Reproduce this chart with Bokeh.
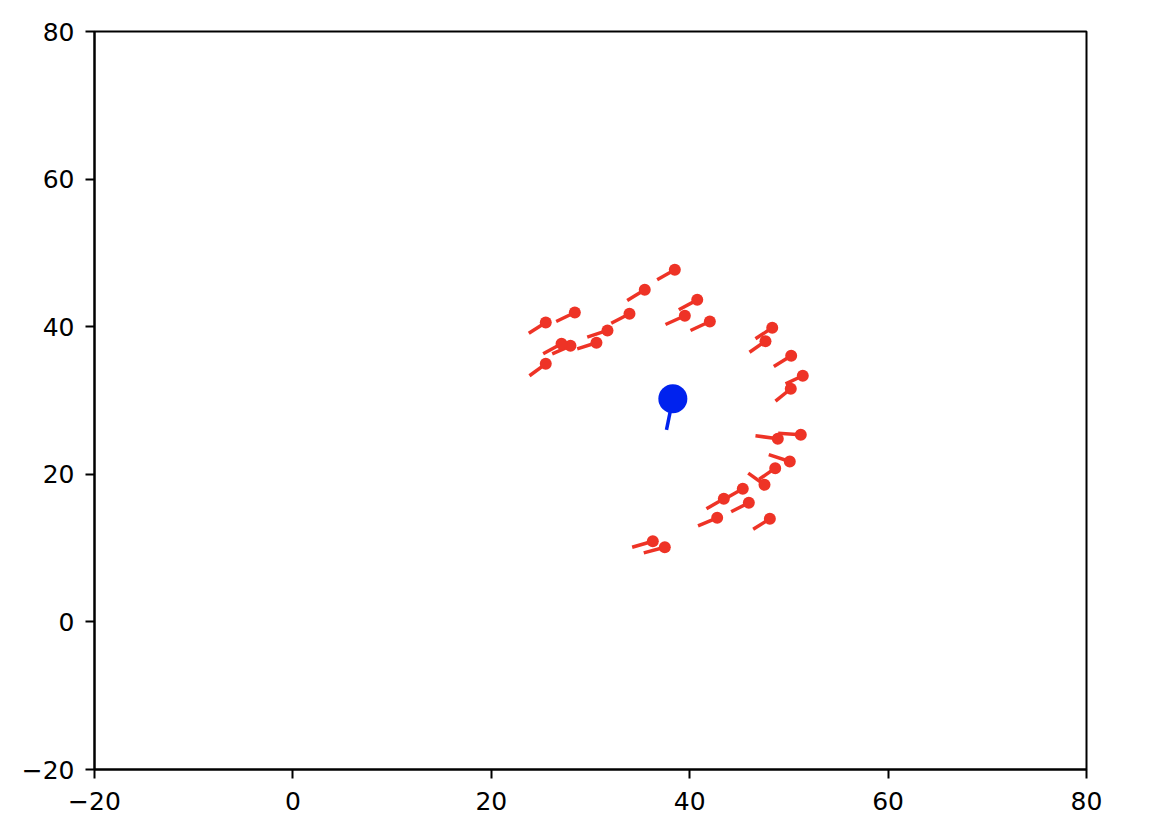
from bokeh.plotting import figure
from bokeh.models import Range1d, ColumnDataSource, FixedTicker
from bokeh.embed import file_html
from bokeh.resources import INLINE

# Red agents: positions and heading vectors (tail = position - heading)
red_x = [38.50, 35.47, 40.76, 39.51, 42.03, 28.42, 25.49, 33.93, 31.71, 30.60,
         27.98, 27.08, 25.49, 48.32, 47.64, 50.23, 51.40, 50.19, 51.20, 48.88,
         50.09, 48.62, 47.54, 45.35, 43.44, 45.96, 42.77, 48.08, 36.28, 37.49]
red_y = [47.71, 45.00, 43.64, 41.48, 40.70, 41.92, 40.57, 41.75, 39.49, 37.82,
         37.41, 37.68, 34.97, 39.85, 38.04, 36.06, 33.35, 31.59, 25.37, 24.81,
         21.73, 20.83, 18.59, 18.04, 16.69, 16.15, 14.11, 13.97, 10.93, 10.12]
red_vx = [1.78, 1.77, 1.86, 1.95, 1.95, 1.88, 1.71, 1.84, 2.04, 1.94,
          1.84, 1.85, 1.64, 1.69, 1.61, 1.75, 1.74, 1.54, 2.28, 2.25,
          2.12, 1.61, 1.64, 1.91, 1.75, 1.78, 1.93, 1.68, 2.08, 2.12]
red_vy = [1.35, 1.45, 1.35, 1.18, 1.22, 1.22, 1.45, 1.28, 0.91, 0.82,
          1.08, 1.35, 1.62, 1.49, 1.50, 1.45, 1.09, 1.68, -0.20, -0.42,
          -0.93, 1.49, -1.56, 1.45, 1.36, 1.23, 1.11, 1.41, 0.81, 0.76]

# Blue agent
blue_x = [38.30]
blue_y = [30.23]
blue_vx = [0.64]
blue_vy = [4.20]

x_ticks = [-20, 0, 20, 40, 60, 80]
y_ticks = [-20, 0, 20, 40, 60, 80]

RED = "#ee3326"
BLUE = "#0022ee"

red_src = ColumnDataSource(dict(
    x=red_x, y=red_y,
    x0=[x - vx for x, vx in zip(red_x, red_vx)],
    y0=[y - vy for y, vy in zip(red_y, red_vy)],
))
blue_src = ColumnDataSource(dict(
    x=blue_x, y=blue_y,
    x0=[x - vx for x, vx in zip(blue_x, blue_vx)],
    y0=[y - vy for y, vy in zip(blue_y, blue_vy)],
))

p = figure(width=1134, height=818, output_backend="svg", toolbar_location=None,
           x_range=Range1d(-20, 80), y_range=Range1d(-20, 80),
           min_border_left=94, min_border_right=48,
           min_border_top=31, min_border_bottom=49)

p.segment(x0="x0", y0="y0", x1="x", y1="y", source=red_src,
          line_color=RED, line_width=3.5, line_cap="butt")
p.scatter(x="x", y="y", source=red_src, size=12, fill_color=RED,
          line_color=None)
p.segment(x0="x0", y0="y0", x1="x", y1="y", source=blue_src,
          line_color=BLUE, line_width=3.5, line_cap="butt")
p.scatter(x="x", y="y", source=blue_src, size=29, fill_color=BLUE,
          line_color=None)

p.grid.visible = False
p.outline_line_color = "black"
p.outline_line_width = 2
p.outline_line_alpha = 1.0
p.background_fill_color = "white"
p.border_fill_color = "white"

p.xaxis.ticker = FixedTicker(ticks=x_ticks)
p.yaxis.ticker = FixedTicker(ticks=y_ticks)
for ax in (p.xaxis[0], p.yaxis[0]):
    ax.axis_line_color = "black"
    ax.axis_line_width = 2
    ax.major_tick_line_color = "black"
    ax.major_tick_line_width = 2
    ax.major_tick_out = 9
    ax.major_tick_in = 0
    ax.minor_tick_line_color = None
    ax.major_label_text_font = "DejaVu Sans"
    ax.major_label_text_font_size = "25px"
    ax.major_label_text_color = "black"
p.xaxis.major_label_standoff = 13
p.yaxis.major_label_standoff = 11

open("out.html", "w").write(file_html(p, INLINE))
